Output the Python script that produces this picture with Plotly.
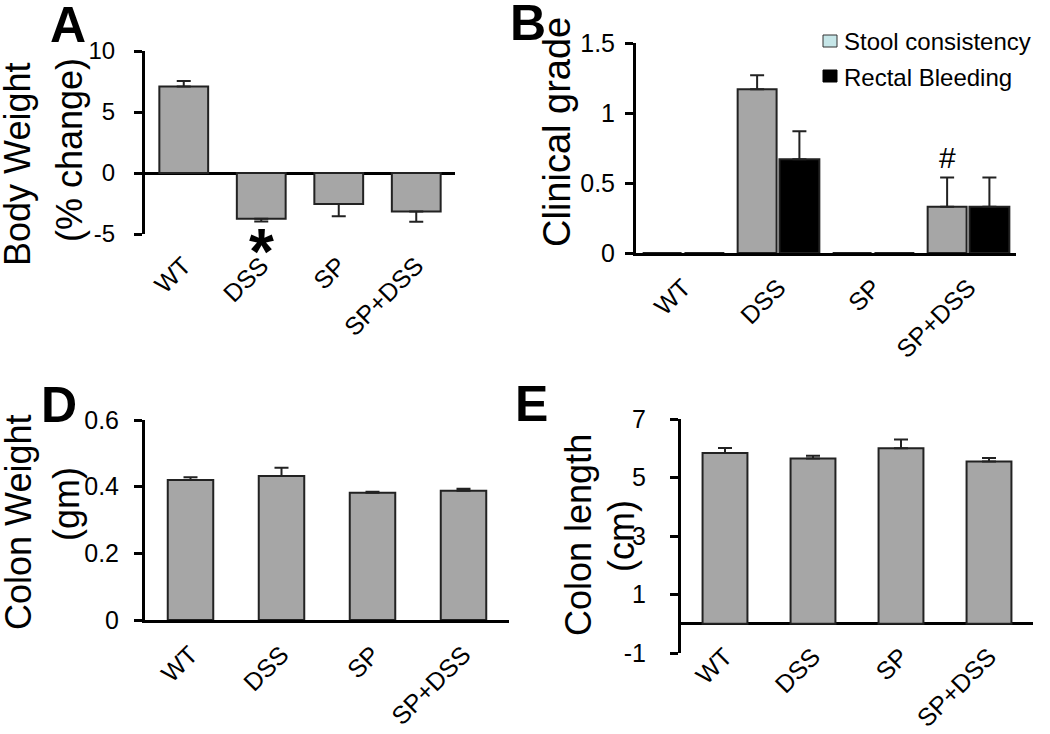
import plotly.graph_objects as go

W, H = 1050, 734
FONT = "Liberation Sans, Arial, sans-serif"

categories = ["WT", "DSS", "SP", "SP+DSS"]

# Panel A: body weight (% change)
body_weight = [7.1, -3.75, -2.55, -3.15]
body_weight_err = [0.45, 0.22, 1.0, 0.85]

# Panel B: clinical grade
stool = [0, 1.17, 0, 0.33]
stool_err = [0, 0.10, 0, 0.21]
bleeding = [0, 0.67, 0, 0.33]
bleeding_err = [0, 0.20, 0, 0.21]

# Panel D: colon weight (gm)
colon_weight = [0.42, 0.432, 0.382, 0.388]
colon_weight_err = [0.008, 0.025, 0.003, 0.006]

# Panel E: colon length (cm)
colon_length = [5.84, 5.65, 6.0, 5.55]
colon_length_err = [0.17, 0.09, 0.30, 0.12]

GRAY = "#a6a6a6"
EDGE = "#222222"


def px_x(x):
    return x / W


def px_y(y):
    return 1 - y / H


def err_up(vals, errs):
    return [e if v >= 0 else 0 for v, e in zip(vals, errs)]


def err_down(vals, errs):
    return [e if v < 0 else 0 for v, e in zip(vals, errs)]


def ebar(vals, errs):
    return dict(type="data", symmetric=False, array=err_up(vals, errs),
                arrayminus=err_down(vals, errs), color=EDGE, thickness=2, width=7)


fig = go.Figure()

fig.add_trace(go.Bar(x=categories, y=body_weight, width=0.63, marker=dict(color=GRAY, line=dict(color=EDGE, width=2)),
                     error_y=ebar(body_weight, body_weight_err), xaxis="x", yaxis="y", showlegend=False))
fig.add_trace(go.Bar(x=categories, y=stool, width=0.41, offset=-0.43, marker=dict(color=GRAY, line=dict(color=EDGE, width=2)),
                     error_y=ebar(stool, stool_err), xaxis="x2", yaxis="y2", showlegend=False))
fig.add_trace(go.Bar(x=categories, y=bleeding, width=0.42, offset=0.01, marker=dict(color="#000000", line=dict(color=EDGE, width=2)),
                     error_y=ebar(bleeding, bleeding_err), xaxis="x2", yaxis="y2", showlegend=False))
fig.add_trace(go.Bar(x=categories, y=colon_weight, width=0.5, marker=dict(color=GRAY, line=dict(color=EDGE, width=2)),
                     error_y=ebar(colon_weight, colon_weight_err), xaxis="x3", yaxis="y3", showlegend=False))
fig.add_trace(go.Bar(x=categories, y=colon_length, width=0.51, marker=dict(color=GRAY, line=dict(color=EDGE, width=2)),
                     error_y=ebar(colon_length, colon_length_err), xaxis="x4", yaxis="y4", showlegend=False))


def xaxis(dom, anchor, standoff, line=False):
    return dict(domain=[px_x(dom[0]), px_x(dom[1])], anchor=anchor, type="category", automargin=False,
                range=[-0.5, 3.5], tickangle=-45, ticks="", showgrid=False, zeroline=False,
                showline=line, linecolor="black", linewidth=3,
                tickfont=dict(family=FONT, size=25, color="black"), ticklabelstandoff=standoff)


def yaxis(dom, anchor, rng, tickvals, ticktext, standoff, zero, size=25):
    return dict(domain=[px_y(dom[1]), px_y(dom[0])], anchor=anchor, range=rng, automargin=False,
                tickvals=tickvals, ticktext=ticktext, ticks="outside", ticklen=8, tickwidth=3,
                tickcolor="black", showline=True, linecolor="black", linewidth=3, showgrid=False,
                zeroline=zero, zerolinecolor="black", zerolinewidth=3,
                tickfont=dict(family=FONT, size=size, color="black"), ticklabelstandoff=standoff)


annotations = []


def ann(text, x, y, size, angle=0, bold=False, xanchor="center"):
    annotations.append(dict(text=f"<b>{text}</b>" if bold else text, x=px_x(x), y=px_y(y),
                            xref="paper", yref="paper", xanchor=xanchor, yanchor="middle",
                            textangle=angle, showarrow=False,
                            font=dict(family=FONT, size=size, color="black")))


# panel letters
ann("A", 68, 25, 50, bold=True)
ann("B", 528, 23, 50, bold=True)
ann("D", 59, 405, 50, bold=True)
ann("E", 531, 404, 50, bold=True)

# axis titles
ann("Body Weight", 17, 165, 36, angle=-90)
ann("(% change)", 69, 150, 36, angle=-90)
ann("Clinical grade", 557, 132, 38, angle=-90)
ann("Colon Weight", 18, 523, 36, angle=-90)
ann("(gm)", 66, 504, 36, angle=-90)
ann("Colon length", 578, 535, 36, angle=-90)
ann("(cm)", 621, 536, 36, angle=-90)

# significance marks
ann("<b>*</b>", 261, 252, 64)
ann("#", 948, 158, 30)

# legend
ann("Stool consistency", 842, 42, 24, xanchor="left")
ann("Rectal Bleeding", 842, 77, 24, xanchor="left")
shapes = [
    dict(type="rect", xref="paper", yref="paper", x0=px_x(823), x1=px_x(837), y0=px_y(47), y1=px_y(35),
         fillcolor="#c6e6e8", line=dict(color="#333333", width=1)),
    dict(type="rect", xref="paper", yref="paper", x0=px_x(823), x1=px_x(837), y0=px_y(82), y1=px_y(70),
         fillcolor="#000000", line=dict(color="#000000", width=1)),
]

fig.update_layout(
    template="none",
    width=W, height=H, margin=dict(l=0, r=0, t=0, b=0, pad=0),
    paper_bgcolor="white", plot_bgcolor="rgba(0,0,0,0)",
    barmode="overlay", showlegend=False,
    xaxis=xaxis((145, 455), "y", 11),
    yaxis=yaxis((51, 234), "x", [-5, 10], [-5, 0, 5, 10], ["-5", "0", "5", "10"], 14, True, size=24),
    xaxis2=xaxis((636, 1016), "y2", 7, line=True),
    yaxis2=yaxis((43, 253), "x2", [0, 1.5], [0, 0.5, 1, 1.5], ["0", "0.5", "1", "1.5"], 5, False),
    xaxis3=xaxis((145, 509), "y3", 7, line=True),
    yaxis3=yaxis((420, 620), "x3", [0, 0.6], [0, 0.2, 0.4, 0.6], ["0", "0.2", "0.4", "0.6"], 10, False),
    xaxis4=xaxis((681, 1033), "y4", -17),
    yaxis4=yaxis((419, 653), "x4", [-1, 7], [-1, 1, 3, 5, 7], ["-1", "1", "3", "5", "7"], 19, True),
    annotations=annotations, shapes=shapes,
)

fig.write_html("out.html", config={"displayModeBar": False},
               post_script="document.body.style.margin='0';document.body.style.overflow='hidden';")
